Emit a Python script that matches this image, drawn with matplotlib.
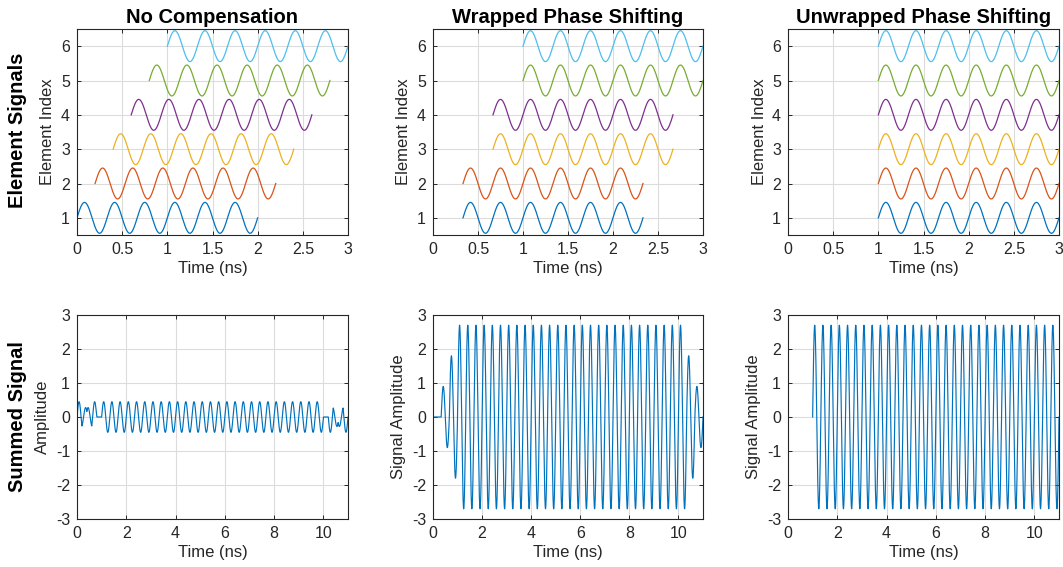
import numpy as np
import matplotlib
matplotlib.use("Agg")
import matplotlib.pyplot as plt

# ---- data (signal parameters) ----
freq_ghz = 3.0                # carrier frequency
amplitude = 0.45              # per-element amplitude
element_index = [1, 2, 3, 4, 5, 6]
titles = ["No Compensation", "Wrapped Phase Shifting", "Unwrapped Phase Shifting"]
start_no_comp = [0.0, 0.2, 0.4, 0.6, 0.8, 1.0]          # ns
start_wrapped = [1/3, 1/3, 2/3, 2/3, 1.0, 1.0]          # ns
start_unwrapped = [1.0, 1.0, 1.0, 1.0, 1.0, 1.0]        # ns
starts = [start_no_comp, start_wrapped, start_unwrapped]
pulse_top = 2.0               # ns shown per element in top row
pulse_bottom = 10.0           # ns per element in summed signal
bottom_t_start = [0.0, 0.0, 1.0]   # where each summed trace begins
top_xlim = (0, 3)
bottom_xlim = (0, 11)
top_xticks = [0, 0.5, 1, 1.5, 2, 2.5, 3]
top_xticklabels = ["0", "0.5", "1", "1.5", "2", "2.5", "3"]
bottom_xticks = [0, 2, 4, 6, 8, 10]
top_yticks = [1, 2, 3, 4, 5, 6]
bottom_yticks = [-3, -2, -1, 0, 1, 2, 3]
bottom_ylabels = ["Amplitude", "Signal Amplitude", "Signal Amplitude"]
colors = ["#0072BD", "#D95319", "#EDB120", "#7E2F8E", "#77AC30", "#4DBEEE"]

plt.rcParams["font.family"] = ["Liberation Sans", "DejaVu Sans"]
plt.rcParams["axes.unicode_minus"] = False

W, H = 1063, 567
fig = plt.figure(figsize=(W / 100, H / 100), dpi=100)

# axes boxes in pixels (left, right, top, bottom)
cols_px = [(77, 348), (433, 703), (788, 1059)]
rows_px = [(29, 235), (315, 519)]

def add_ax(col, row):
    l, r = cols_px[col]
    t, b = rows_px[row]
    return fig.add_axes([l / W, 1 - b / H, (r - l) / W, (b - t) / H])

def style(ax):
    ax.grid(True, color="#dcdcdc", linewidth=0.8)
    ax.set_axisbelow(True)
    for s in ax.spines.values():
        s.set_color("#262626")
        s.set_linewidth(0.8)
    ax.tick_params(direction="in", top=True, right=True, length=3,
                   colors="#262626", labelsize=11.5, width=0.7, pad=5)

def sig(t, start, dur):
    on = (t >= start) & (t <= start + dur)
    return np.where(on, amplitude * np.sin(2 * np.pi * freq_ghz * (t - start)), 0.0)

for c in range(3):
    # top row
    ax = add_ax(c, 0)
    for k, idx in enumerate(element_index):
        s0 = starts[c][k]
        t = np.linspace(s0, s0 + pulse_top, 800)
        ax.plot(t, idx + amplitude * np.sin(2 * np.pi * freq_ghz * (t - s0)),
                color=colors[k], lw=0.9)
    ax.set_xlim(*top_xlim)
    ax.set_ylim(0.5, 6.5)
    ax.set_xticks(top_xticks)
    ax.set_xticklabels(top_xticklabels)
    ax.set_yticks(top_yticks)
    style(ax)
    ax.set_xlabel("Time (ns)", fontsize=12, color="#262626", labelpad=3)
    ax.set_ylabel("Element Index", fontsize=12, color="#262626", labelpad=4)
    ax.set_title(titles[c], fontsize=14.5, fontweight="bold", pad=4)

    # bottom row
    ax = add_ax(c, 1)
    t = np.linspace(bottom_t_start[c], bottom_xlim[1], 11001)
    total = np.zeros_like(t)
    for k in range(len(element_index)):
        total += sig(t, starts[c][k], pulse_bottom)
    ax.plot(t, total, color=colors[0], lw=0.85)
    ax.set_xlim(*bottom_xlim)
    ax.set_ylim(-3, 3)
    ax.set_xticks(bottom_xticks)
    ax.set_yticks(bottom_yticks)
    style(ax)
    ax.set_xlabel("Time (ns)", fontsize=12, color="#262626", labelpad=3)
    ax.set_ylabel(bottom_ylabels[c], fontsize=12, color="#262626", labelpad=4)

fig.text(18 / W, 1 - 130 / H, "Element Signals", rotation=90, fontsize=14.5,
         fontweight="bold", ha="center", va="center")
fig.text(18 / W, 1 - 417 / H, "Summed Signal", rotation=90, fontsize=14.5,
         fontweight="bold", ha="center", va="center")

fig.savefig("out.png", dpi=100)
